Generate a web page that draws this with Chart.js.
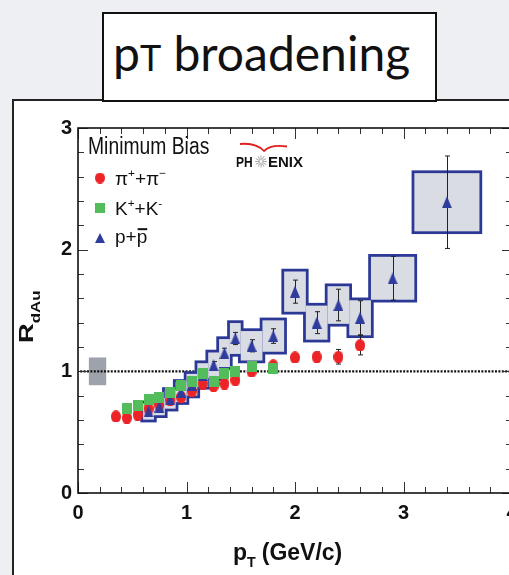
<!DOCTYPE html>
<html>
<head>
<meta charset="utf-8">
<script src="https://cdn.jsdelivr.net/npm/chart.js@4.4.1/dist/chart.umd.min.js"></script>
<style>
  html, body { margin: 0; padding: 0; overflow: hidden; }
  body { width: 509px; height: 575px; position: relative; background: #edeff2; }
  #panel {
    position: absolute; left: 12px; top: 99px; width: 620px; height: 620px;
    background: #fff; border-left: 2px solid #222; border-top: 2px solid #222;
  }
  #heading {
    position: absolute; left: 102px; top: 12px; width: 335px; height: 90px;
    box-sizing: border-box; background: #fff; border: 2px solid #111;
    font-family: Lato, "Open Sans", sans-serif; font-size: 48px; color: #111;
    line-height: 78px; padding-left: 9px; white-space: nowrap;
  }
  #heading .sc { font-size: 36px; }
  #chartBox { position: absolute; left: 0; top: 0; width: 540px; height: 575px; }
</style>
</head>
<body>
<div id="panel"></div>
<div id="heading">p<span class="sc">T</span> broadening</div>
<div id="chartBox"><canvas id="rdau"></canvas></div>
<script>
// R_dAu, minimum bias, identified hadrons
const pionPt = [0.35, 0.45, 0.55, 0.65, 0.75, 0.85, 0.95, 1.05, 1.15, 1.25, 1.35, 1.45, 1.6, 1.8, 2.0, 2.2, 2.4, 2.6];
const pionR = [0.63, 0.62, 0.645, 0.695, 0.725, 0.765, 0.79, 0.84, 0.90, 0.88, 0.90, 0.93, 1.00, 1.05, 1.115, 1.12, 1.12, 1.215];
const pionErr = [0.01, 0.01, 0.01, 0.01, 0.01, 0.01, 0.01, 0.01, 0.01, 0.01, 0.015, 0.015, 0.02, 0.02, 0.03, 0.04, 0.06, 0.08];

const kaonPt = [0.45, 0.55, 0.65, 0.75, 0.85, 0.95, 1.05, 1.15, 1.25, 1.35, 1.45, 1.6, 1.8];
const kaonR = [0.695, 0.72, 0.77, 0.785, 0.83, 0.887, 0.915, 0.98, 0.915, 0.98, 1.0, 1.04, 1.02];

const protonPt = [0.65, 0.75, 0.85, 0.95, 1.05, 1.15, 1.25, 1.35, 1.45, 1.6, 1.8, 2.0, 2.2, 2.4, 2.6, 2.9, 3.4];
const protonR = [0.67, 0.71, 0.77, 0.83, 0.89, 0.97, 1.05, 1.15, 1.27, 1.21, 1.29, 1.655, 1.40, 1.545, 1.44, 1.765, 2.39];
const protonErr = [0.02, 0.02, 0.02, 0.02, 0.03, 0.03, 0.03, 0.04, 0.05, 0.05, 0.06, 0.095, 0.09, 0.13, 0.14, 0.18, 0.38];
const protonBinHalf = [0.05, 0.05, 0.05, 0.05, 0.05, 0.05, 0.05, 0.05, 0.05, 0.1, 0.1, 0.1, 0.1, 0.1, 0.1, 0.2, 0.3];
const protonSys = 0.10;   // relative systematic, drawn as boxes
const normUnc = 0.114;    // overall normalisation uncertainty

const xTicks = [0, 1, 2, 3, 4];
const yTicks = [0, 1, 2, 3];

const RED = '#ec2428', GREEN = '#52bd5a', BLUE = '#2f3c9e';
const BOX_EDGE = '#2b3896', BOX_FILL = '#dadce4';
const FONT = '"Liberation Sans", Arial, Helvetica, sans-serif';

function sprite(w, h, paint) {
  const c = document.createElement('canvas');
  c.width = w; c.height = h;
  paint(c.getContext('2d'), w, h);
  return c;
}
const dot = (w, h) => sprite(w, h, (g) => {
  g.fillStyle = RED; g.beginPath();
  g.ellipse(w / 2, h / 2, w / 2, h / 2, 0, 0, Math.PI * 2); g.fill();
});
const square = (w, h) => sprite(w, h, (g) => { g.fillStyle = GREEN; g.fillRect(0, 0, w, h); });
const tri = (w, h) => sprite(w, h, (g) => {
  g.fillStyle = BLUE; g.beginPath();
  g.moveTo(w / 2, 0); g.lineTo(w, h); g.lineTo(0, h); g.closePath(); g.fill();
});

const isInt = (v) => Math.abs(v - Math.round(v)) < 1e-6;
const intLabel = (v) => (isInt(v) && xTicks.concat(yTicks).includes(Math.round(v)) ? String(Math.round(v)) : '');

// text with super/subscripts, returns end x
function rich(ctx, parts, x, y, size, weight) {
  for (const p of parts) {
    const s = p.sup || p.sub ? size * 0.62 : size;
    ctx.font = `${weight} ${s}px ${FONT}`;
    const dy = p.sup ? -size * 0.42 : p.sub ? size * 0.32 : 0;
    ctx.fillText(p.t, x, y + dy);
    const w = ctx.measureText(p.t).width;
    if (p.bar) {
      ctx.fillRect(x + 1, y - size * 0.78, w - 1, 2);
    }
    x += w + (p.gap || 0);
  }
  return x;
}

const boxes = {
  id: 'boxes',
  beforeDatasetsDraw(chart) {
    const { ctx, chartArea: a, scales: { x, y } } = chart;
    ctx.save();
    ctx.beginPath(); ctx.rect(a.left, a.top, a.width, a.height); ctx.clip();

    // normalisation box at unity
    ctx.fillStyle = '#9ea2aa';
    ctx.fillRect(x.getPixelForValue(0.10), y.getPixelForValue(1 + normUnc),
      x.getPixelForValue(0.26) - x.getPixelForValue(0.10),
      y.getPixelForValue(1 - normUnc) - y.getPixelForValue(1 + normUnc));

    // unity reference
    ctx.strokeStyle = '#111'; ctx.lineWidth = 2.4; ctx.setLineDash([2, 1.4]);
    ctx.beginPath();
    ctx.moveTo(x.getPixelForValue(0.02), y.getPixelForValue(1));
    ctx.lineTo(a.right, y.getPixelForValue(1));
    ctx.stroke();
    ctx.setLineDash([]);

    // proton systematics: outline all, then fill all so only the outer contour stays
    const rects = protonPt.map((p, i) => {
      const l = x.getPixelForValue(p - protonBinHalf[i]);
      const r = x.getPixelForValue(p + protonBinHalf[i]);
      const t = y.getPixelForValue(protonR[i] * (1 + protonSys));
      const b = y.getPixelForValue(protonR[i] * (1 - protonSys));
      return [l, t, r - l, b - t];
    });
    ctx.strokeStyle = BOX_EDGE; ctx.lineWidth = 5.5;
    rects.forEach((r) => ctx.strokeRect(...r));
    ctx.fillStyle = BOX_FILL;
    rects.forEach((r) => ctx.fillRect(...r));

    // statistical errors
    ctx.strokeStyle = '#222'; ctx.lineWidth = 1;
    ctx.beginPath();
    const bar = (xv, yv, e) => {
      const px = Math.round(x.getPixelForValue(xv)) + 0.5;
      const t = y.getPixelForValue(yv + e), b = y.getPixelForValue(yv - e);
      ctx.moveTo(px, t); ctx.lineTo(px, b);
      ctx.moveTo(px - 2.5, t); ctx.lineTo(px + 2.5, t);
      ctx.moveTo(px - 2.5, b); ctx.lineTo(px + 2.5, b);
    };
    protonPt.forEach((p, i) => bar(p, protonR[i], protonErr[i]));
    pionPt.forEach((p, i) => bar(p, pionR[i], pionErr[i]));
    ctx.stroke();
    ctx.restore();
  }
};

const frame = {
  id: 'frame',
  afterDraw(chart) {
    const { ctx, chartArea: a, scales: { x, y } } = chart;
    ctx.save();
    ctx.strokeStyle = '#333'; ctx.lineWidth = 1;
    ctx.beginPath();
    for (const t of x.ticks) {
      const p = Math.round(x.getPixelForValue(t.value)) + 0.5;
      const len = isInt(t.value) ? 11 : 6;
      ctx.moveTo(p, a.bottom); ctx.lineTo(p, a.bottom - len);
      ctx.moveTo(p, a.top); ctx.lineTo(p, a.top + len);
    }
    for (const t of y.ticks) {
      const p = Math.round(y.getPixelForValue(t.value)) + 0.5;
      const len = isInt(t.value) ? 10 : 6;
      ctx.moveTo(a.left, p); ctx.lineTo(a.left + len, p);
      ctx.moveTo(a.right, p); ctx.lineTo(a.right - len, p);
    }
    ctx.stroke();
    ctx.strokeStyle = '#111'; ctx.lineWidth = 1.6;
    ctx.strokeRect(a.left, a.top, a.width, a.height);

    ctx.fillStyle = '#111';
    // x title
    rich(ctx, [{ t: 'p' }, { t: 'T', sub: true, gap: 6 }, { t: '(GeV/c)' }], 233, 560, 23, 'bold');
    // y title, rotated
    ctx.save();
    ctx.translate(33, 343); ctx.rotate(-Math.PI / 2); ctx.scale(1.3, 1);
    rich(ctx, [{ t: 'R' }, { t: 'dAu', sub: true }], 0, 0, 21, 'bold');
    ctx.restore();

    // legend
    ctx.save();
    ctx.translate(88, 154); ctx.scale(0.84, 1);
    ctx.font = `23px ${FONT}`;
    ctx.fillText('Minimum Bias', 0, 0);
    ctx.restore();
    ctx.drawImage(dot(10, 11), 95, 172.5);
    ctx.drawImage(square(10, 10), 95, 203);
    ctx.drawImage(tri(10, 10), 95, 233);
    rich(ctx, [{ t: 'π' }, { t: '+', sup: true }, { t: '+π' }, { t: '−', sup: true }], 115, 185, 19, 'normal');
    rich(ctx, [{ t: 'K' }, { t: '+', sup: true }, { t: '+K' }, { t: '-', sup: true }], 115, 215, 19, 'normal');
    rich(ctx, [{ t: 'p+' }, { t: 'p', bar: true }], 115, 243, 19, 'normal');

    // PHENIX mark
    ctx.strokeStyle = '#e02020'; ctx.lineWidth = 1.8;
    ctx.beginPath();
    ctx.moveTo(240, 144);
    ctx.quadraticCurveTo(256, 142.5, 264, 151);
    ctx.quadraticCurveTo(271, 144, 287, 146.5);
    ctx.stroke();
    ctx.save();
    ctx.translate(236, 167); ctx.scale(0.8, 1);
    ctx.font = `bold 15px ${FONT}`;
    ctx.fillText('PH', 0, 0);
    ctx.restore();
    ctx.strokeStyle = '#a8a8a8'; ctx.lineWidth = 1;
    ctx.beginPath();
    for (let k = 0; k < 12; k++) {
      const an = k * Math.PI / 6;
      ctx.moveTo(261 + Math.cos(an) * 1.5, 161.5 + Math.sin(an) * 1.5);
      ctx.lineTo(261 + Math.cos(an) * 6, 161.5 + Math.sin(an) * 6);
    }
    ctx.stroke();
    ctx.font = `bold 15px ${FONT}`;
    ctx.fillText('ENIX', 268, 167);
    ctx.restore();
  }
};

const axisTicks = {
  stepSize: 0.2, autoSkip: false, maxRotation: 0, color: '#111',
  font: { family: FONT, size: 20, weight: 'bold' }, callback: intLabel
};

new Chart(document.getElementById('rdau'), {
  type: 'scatter',
  data: {
    datasets: [
      { label: 'pi', data: pionPt.map((v, i) => ({ x: v, y: pionR[i] })), pointStyle: dot(10, 12.5), order: 2 },
      { label: 'p', data: protonPt.map((v, i) => ({ x: v, y: protonR[i] })), pointStyle: tri(10, 12), order: 1 },
      { label: 'K', data: kaonPt.map((v, i) => ({ x: v, y: kaonR[i] })), pointStyle: square(10, 11.5), order: 0 }
    ]
  },
  options: {
    responsive: true, maintainAspectRatio: false, animation: false, events: [],
    layout: { padding: { top: 128, right: 28, left: 0, bottom: 0 } },
    plugins: { legend: { display: false }, tooltip: { enabled: false } },
    scales: {
      x: {
        type: 'linear', min: 0, max: 4,
        grid: { display: false, drawTicks: false }, border: { display: false },
        ticks: { ...axisTicks, padding: 8 },
        afterFit: (s) => { s.height = 82; }
      },
      y: {
        type: 'linear', min: 0, max: 3,
        grid: { display: false, drawTicks: false }, border: { display: false },
        ticks: { ...axisTicks, padding: 6 },
        afterFit: (s) => { s.width = 78; }
      }
    }
  },
  plugins: [boxes, frame]
});
</script>
</body>
</html>
